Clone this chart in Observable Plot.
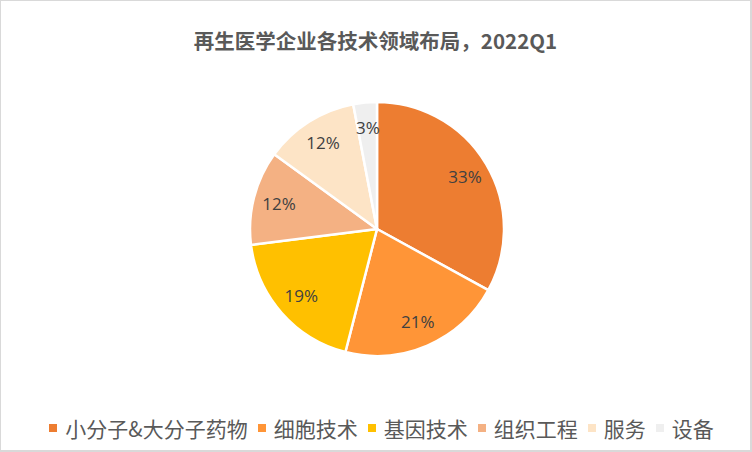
<!DOCTYPE html>
<html>
<head>
<meta charset="utf-8">
<script src="https://cdn.jsdelivr.net/npm/d3@7"></script>
<script src="https://cdn.jsdelivr.net/npm/@observablehq/plot@0.6"></script>
<style>
  html, body { margin: 0; padding: 0; background: #fff; }
  #frame {
    width: 752px; height: 452px; box-sizing: border-box;
    border-style: solid; border-color: #D9D9D9; border-width: 1px 2px 2px 1px;
    background: #fff; overflow: hidden;
    font-family: "Noto Sans CJK SC", "Noto Sans", sans-serif;
  }
  #title {
    height: 70px; box-sizing: border-box; padding-top: 28px;
    text-align: center; font-size: 20.5px; line-height: 22px; font-weight: bold; color: #595959;
  }
  #chart { height: 320px; }
  #chart svg { display: block; }
  #legend {
    height: 59px; box-sizing: border-box; padding-top: 15px; padding-left: 12px;
    display: flex; justify-content: center; align-items: center;
    font-size: 21px; line-height: 24px; color: #595959;
  }
  #legend .item { display: flex; align-items: center; margin: 0 5px; }
  #legend .sw { width: 8px; height: 8px; margin-right: 8px; }
</style>
</head>
<body>
<div id="frame">
  <div id="title"></div>
  <div id="chart"></div>
  <div id="legend"></div>
</div>
<script>
const title = "再生医学企业各技术领域布局，2022Q1";
const categories = ["小分子&大分子药物", "细胞技术", "基因技术", "组织工程", "服务", "设备"];
const shares = [33, 21, 19, 12, 12, 3];
const labels = ["33%", "21%", "19%", "12%", "12%", "3%"];
const colors = ["#ED7D31", "#FF9537", "#FFC000", "#F4B183", "#FDE4C6", "#EFEFEF"];

const data = categories.map((c, i) => ({category: c, value: shares[i], label: labels[i], color: colors[i]}));

document.getElementById("title").textContent = title;

const W = 749, H = 320, cx = 376, cy = 158, R = 127;
const arcs = d3.pie().value(d => d.value).sort(null)(data);
const arcGen = d3.arc().innerRadius(0).outerRadius(R);
const labelArc = d3.arc().innerRadius(R * 0.8).outerRadius(R * 0.8);

const chart = Plot.plot({
  width: W,
  height: H,
  margin: 0,
  x: {type: "identity", axis: null},
  y: {type: "identity", axis: null},
  marks: [
    () => {
      const g = d3.create("svg:g").attr("transform", `translate(${cx},${cy})`);
      g.selectAll("path")
        .data(arcs)
        .join("path")
        .attr("d", arcGen)
        .attr("fill", d => d.data.color)
        .attr("stroke", "#fff")
        .attr("stroke-width", 2.5)
        .attr("stroke-linejoin", "round");
      return g.node();
    },
    Plot.text(arcs, {
      x: d => cx + labelArc.centroid(d)[0],
      y: d => cy + labelArc.centroid(d)[1],
      text: d => d.data.label,
      fill: "#404040",
      fontSize: 17,
      fontFamily: "'Open Sans', 'Noto Sans', sans-serif"
    })
  ]
});
document.getElementById("chart").appendChild(chart);

const legend = d3.select("#legend");
const items = legend.selectAll(".item").data(data).join("div").attr("class", "item");
items.append("div").attr("class", "sw").style("background", d => d.color);
items.append("span").text(d => d.category);
</script>
</body>
</html>
